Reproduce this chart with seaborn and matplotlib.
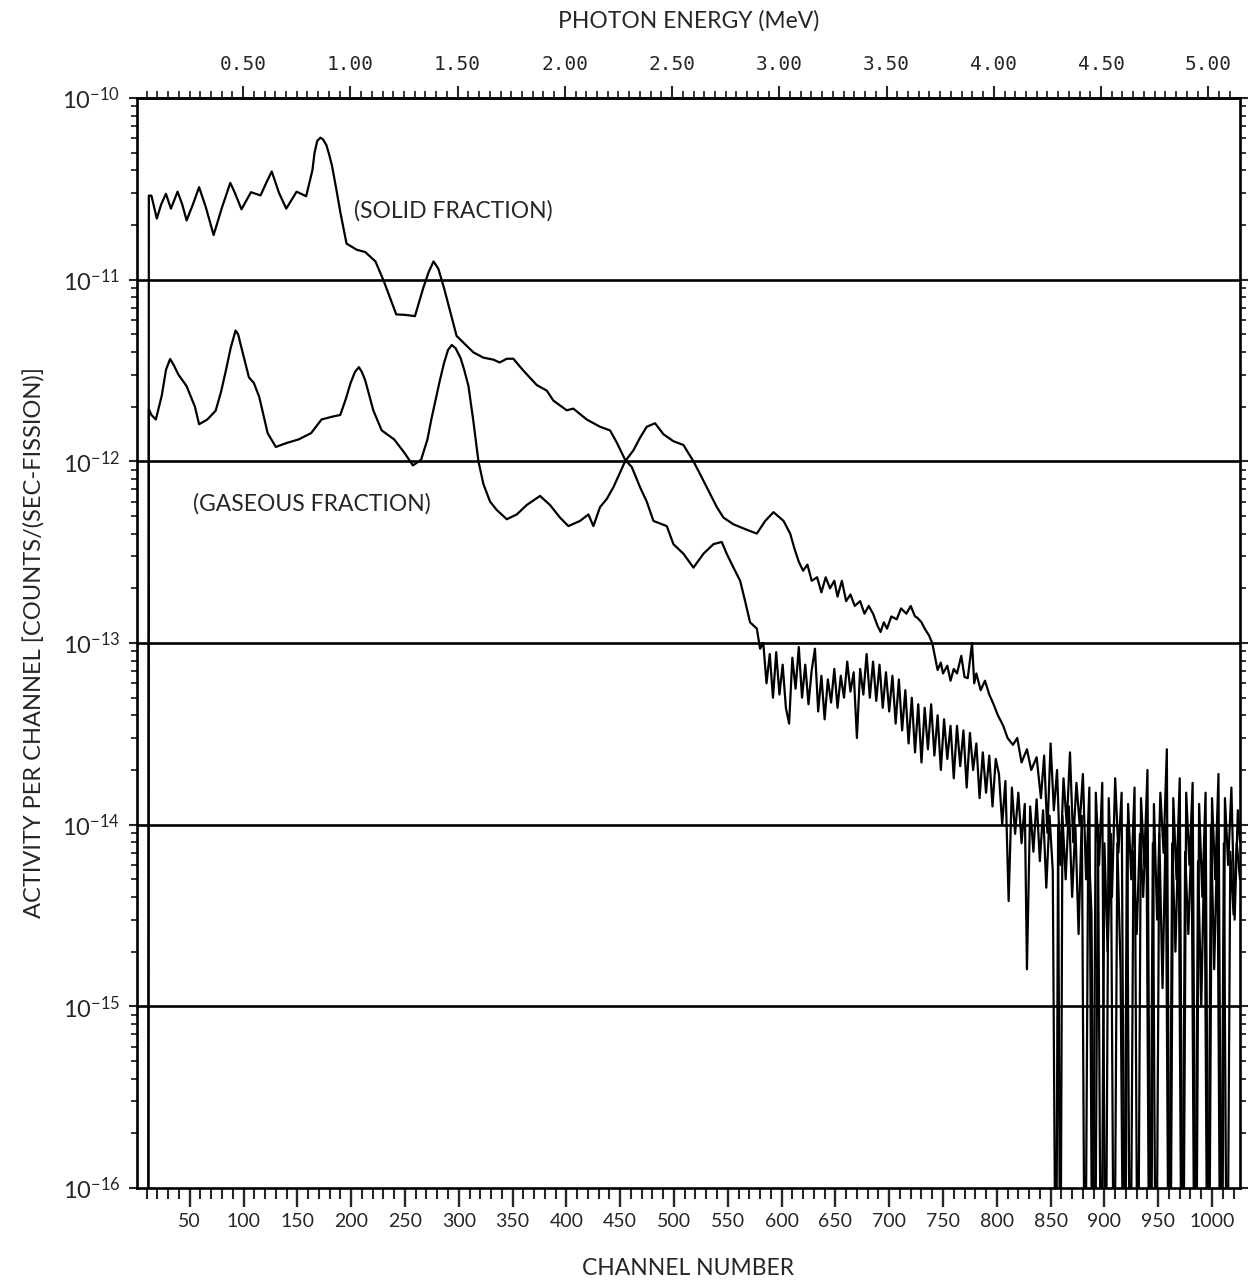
import numpy as np
import pandas as pd
import matplotlib
matplotlib.use("Agg")
import matplotlib.pyplot as plt
import seaborn as sns
from matplotlib.ticker import FixedLocator, NullFormatter, FixedFormatter, LogFormatterSciNotation

# ---------------- data ----------------
solid_channel = [11.5, 12, 14.4, 19.4, 23.5, 27.9, 32.5, 38.7, 43, 47.1, 53, 58.7, 65, 72.2, 80,
                 87.7, 92, 98.1, 106.9, 115.8, 121, 126.2, 133, 139.7, 149.3, 158.2, 164, 166,
                 168.5, 171.4, 174, 177, 179.5, 182.2, 186, 189.9, 195.7, 205.3, 213, 222.6,
                 230.4, 241.9, 250, 259.3, 267, 272, 276.6, 281, 286.3, 298, 313.6, 322.9, 332.2,
                 338, 344.6, 350.7, 360, 372.5, 381.8, 387.9, 400.3, 406.5, 418.9, 431.3, 440.6,
                 446.8, 454.6, 460.8, 468.5, 474.7, 480.9, 493.3, 499.5, 508.8, 518.1, 527.4,
                 536.7, 544.4, 549, 555.3, 561.5, 566.1, 570.7, 577, 580,
                 583, 586, 589, 592, 595, 598, 601, 604, 607, 610, 613, 616, 619, 622, 625, 628,
                 631, 634, 637, 640, 643, 646, 649, 652, 655, 658, 661, 664, 667, 670, 673, 676,
                 679, 682, 685, 688, 691, 694, 697, 700, 703, 706, 709, 712, 715, 718, 721, 724,
                 727, 730, 733, 736, 739, 742, 745, 748, 751, 754, 757, 760, 763, 766, 769, 772,
                 775, 778, 781, 784, 787, 790, 793, 796, 799,
                 802, 805, 808, 811, 814, 817, 820, 823, 826, 828, 831, 834, 837, 840, 843, 846,
                 849, 852, 855, 857, 859, 861, 864, 867, 870, 873, 876, 879, 882, 885, 888, 891,
                 894, 897, 900, 903, 906, 909, 912, 915, 918, 921, 924, 927, 930, 933, 936, 939,
                 942, 945, 948, 951, 954, 957, 960, 963, 966, 969, 972, 975, 978, 981, 984, 987,
                 990, 993, 996, 999, 1002, 1005, 1008, 1011, 1014, 1017, 1020, 1023, 1026]
solid_activity = [1e-17, 2.9e-11, 2.9e-11, 2.17e-11, 2.6e-11, 2.97e-11, 2.46e-11, 3.05e-11, 2.6e-11,
                  2.12e-11, 2.6e-11, 3.23e-11, 2.5e-11, 1.76e-11, 2.5e-11, 3.41e-11, 3.0e-11,
                  2.44e-11, 3.03e-11, 2.91e-11, 3.4e-11, 3.94e-11, 3.0e-11, 2.46e-11, 3.05e-11,
                  2.88e-11, 4.0e-11, 5.0e-11, 5.8e-11, 6.05e-11, 5.9e-11, 5.5e-11, 4.9e-11,
                  4.24e-11, 3.2e-11, 2.36e-11, 1.58e-11, 1.46e-11, 1.42e-11, 1.26e-11, 9.8e-12,
                  6.44e-12, 6.4e-12, 6.3e-12, 9.0e-12, 1.1e-11, 1.26e-11, 1.15e-11, 9.0e-12,
                  4.9e-12, 3.98e-12, 3.72e-12, 3.63e-12, 3.5e-12, 3.67e-12, 3.67e-12, 3.16e-12,
                  2.63e-12, 2.45e-12, 2.16e-12, 1.91e-12, 1.95e-12, 1.70e-12, 1.55e-12, 1.48e-12,
                  1.27e-12, 1.02e-12, 9.3e-13, 7.2e-13, 6.0e-13, 4.7e-13, 4.4e-13, 3.5e-13,
                  3.1e-13, 2.6e-13, 3.1e-13, 3.5e-13, 3.6e-13, 3.1e-13, 2.6e-13, 2.2e-13, 1.7e-13,
                  1.3e-13, 1.2e-13, 9.3e-14,
                  1.0e-13, 6.0e-14, 8.7e-14, 5.0e-14, 8.9e-14, 5.2e-14, 7.6e-14, 4.4e-14, 3.6e-14,
                  8.3e-14, 5.6e-14, 9.5e-14, 5.0e-14, 7.6e-14, 4.6e-14, 7.1e-14, 9.3e-14, 4.2e-14,
                  6.6e-14, 3.8e-14, 6.3e-14, 4.7e-14, 7.2e-14, 4.4e-14, 6.6e-14, 5.0e-14, 7.9e-14,
                  5.4e-14, 6.9e-14, 3.0e-14, 7.2e-14, 5.2e-14, 8.7e-14, 5.0e-14, 7.9e-14, 4.8e-14,
                  7.6e-14, 4.4e-14, 6.9e-14, 4.2e-14, 6.6e-14, 3.6e-14, 6.3e-14, 3.3e-14, 5.5e-14,
                  2.8e-14, 5.0e-14, 2.5e-14, 4.6e-14, 2.2e-14, 4.4e-14, 2.6e-14, 4.6e-14, 2.4e-14,
                  4.0e-14, 2.0e-14, 3.8e-14, 2.3e-14, 3.5e-14, 1.8e-14, 3.5e-14, 2.1e-14, 3.3e-14,
                  1.6e-14, 3.2e-14, 2.0e-14, 2.8e-14, 1.4e-14, 2.5e-14, 1.5e-14, 2.4e-14, 1.26e-14,
                  2.3e-14,
                  1.9e-14, 1.0e-14, 1.74e-14, 3.8e-15, 1.6e-14, 8.9e-15, 1.5e-14, 7.9e-15, 1.3e-14,
                  1.6e-15, 1.26e-14, 7.1e-15, 1.38e-14, 6.3e-15, 1.2e-14, 4.5e-15, 1.12e-14, 5.6e-15,
                  1e-17, 1.0e-14, 1e-17, 1.12e-14, 5.0e-15, 1.26e-14, 4.0e-15, 1.0e-14, 2.5e-15,
                  1.12e-14, 1e-17, 8.9e-15, 3.2e-15, 1e-17, 1.0e-14, 1e-17, 7.9e-15, 2.0e-15,
                  8.9e-15, 1e-17, 7.9e-15, 1.6e-15, 1e-17, 1.0e-14, 1e-17, 7.1e-15, 2.5e-15, 8.9e-15,
                  4.0e-15, 1.12e-14, 1e-17, 7.9e-15, 1e-17, 8.9e-15, 1.26e-15, 1.0e-14, 1e-17,
                  7.9e-15, 2.0e-15, 1.0e-14, 1e-17, 7.1e-15, 2.5e-15, 8.9e-15, 1e-17, 6.3e-15,
                  1.0e-15, 7.9e-15, 1e-17, 1.0e-14, 1.6e-15, 8.9e-15, 1e-17, 7.9e-15, 1e-17, 7.1e-15,
                  3.2e-15, 7.9e-15, 5.0e-15]

gas_channel = [11.5, 12, 14.4, 18.5, 24, 28, 31.8, 35, 39.5, 47, 54.8, 58.7, 66.4, 74.1, 79,
               83.8, 88, 92.6, 95, 97.3, 105, 109.6, 114.6, 122.4, 130, 139.7, 151.2, 162.8,
               172.5, 182.2, 189.9, 195, 199.5, 203.5, 207.2, 210, 213, 220.7, 228.4, 240, 249.7,
               257.4, 265, 270.9, 274.5, 278.6, 282.5, 286.3, 290, 293.5, 297, 301.7, 305, 309,
               313.6, 318.3, 322.9, 329.1, 335.3, 344.6, 353.9, 363.2, 375.5, 384.8, 394.1, 401.9,
               412.7, 420.5, 425.1, 431.3, 437.5, 443.7, 454.6, 462.3, 468.5, 474.7, 482.4, 490.2,
               499.5, 508.8, 518.1, 524.3, 530.5, 539.8, 546, 555.3, 567.7, 577, 584.8, 592.5,
               601.8, 608,
               612, 616, 620, 624, 628, 633, 637, 641, 645, 649, 652, 656, 660, 664, 668, 673,
               677, 681, 685, 689, 692, 695, 698, 702, 707, 711, 716, 720, 724, 726, 730, 733,
               737, 740, 745, 748, 750, 754, 757, 760, 763, 767, 770, 773, 777, 779, 781, 785,
               789, 793, 797, 801, 806, 810, 815, 819, 823, 828, 832, 837,
               841, 844, 847, 850, 853, 856, 859, 862, 865, 868, 871, 874, 877, 880, 883, 886,
               889, 892, 895, 898, 901, 904, 907, 910, 913, 916, 919, 922, 925, 928, 931, 934,
               937, 940, 943, 946, 949, 952, 955, 958, 961, 964, 967, 970, 973, 976, 979, 982,
               985, 988, 991, 994, 997, 1000, 1003, 1006, 1009, 1012, 1015, 1018, 1021, 1024, 1026]
gas_activity = [1e-17, 1.94e-12, 1.80e-12, 1.70e-12, 2.3e-12, 3.2e-12, 3.66e-12, 3.4e-12, 3.0e-12,
                2.6e-12, 2.0e-12, 1.6e-12, 1.7e-12, 1.9e-12, 2.4e-12, 3.2e-12, 4.2e-12, 5.25e-12,
                5.0e-12, 4.4e-12, 2.9e-12, 2.7e-12, 2.26e-12, 1.43e-12, 1.20e-12, 1.26e-12,
                1.32e-12, 1.43e-12, 1.70e-12, 1.76e-12, 1.80e-12, 2.2e-12, 2.7e-12, 3.1e-12,
                3.3e-12, 3.1e-12, 2.8e-12, 1.9e-12, 1.48e-12, 1.32e-12, 1.11e-12, 9.5e-13,
                1.02e-12, 1.32e-12, 1.7e-12, 2.19e-12, 2.8e-12, 3.47e-12, 4.1e-12, 4.37e-12,
                4.2e-12, 3.7e-12, 3.2e-12, 2.6e-12, 1.66e-12, 1.0e-12, 7.5e-13, 6.0e-13, 5.4e-13,
                4.8e-13, 5.1e-13, 5.75e-13, 6.45e-13, 5.75e-13, 4.9e-13, 4.4e-13, 4.7e-13,
                5.1e-13, 4.4e-13, 5.6e-13, 6.2e-13, 7.2e-13, 1.0e-12, 1.15e-12, 1.35e-12,
                1.55e-12, 1.62e-12, 1.41e-12, 1.29e-12, 1.23e-12, 1.0e-12, 8.5e-13, 7.2e-13,
                5.6e-13, 4.9e-13, 4.5e-13, 4.2e-13, 4.0e-13, 4.7e-13, 5.25e-13, 4.7e-13, 4.0e-13,
                3.3e-13, 2.8e-13, 2.5e-13, 2.7e-13, 2.2e-13, 2.3e-13, 1.9e-13, 2.3e-13, 2.0e-13,
                2.2e-13, 1.8e-13, 2.2e-13, 1.7e-13, 1.85e-13, 1.6e-13, 1.7e-13, 1.45e-13, 1.6e-13,
                1.45e-13, 1.25e-13, 1.15e-13, 1.3e-13, 1.2e-13, 1.4e-13, 1.35e-13, 1.55e-13,
                1.45e-13, 1.6e-13, 1.4e-13, 1.38e-13, 1.3e-13, 1.2e-13, 1.1e-13, 1.0e-13, 7.1e-14,
                7.8e-14, 6.8e-14, 7.5e-14, 6.2e-14, 7.2e-14, 6.8e-14, 8.5e-14, 6.5e-14, 6.4e-14,
                1.0e-13, 6.0e-14, 6.8e-14, 5.5e-14, 6.2e-14, 5.2e-14, 4.6e-14, 4.0e-14, 3.5e-14,
                3.0e-14, 2.75e-14, 3.0e-14, 2.2e-14, 2.6e-14, 2.0e-14, 2.35e-14,
                1.4e-14, 2.4e-14, 9.0e-15, 2.8e-14, 1.2e-14, 2.0e-14, 6.0e-15, 1.8e-14, 1.0e-14,
                2.5e-14, 8.0e-15, 1.7e-14, 1.0e-14, 1.9e-14, 5.0e-15, 1.6e-14, 1e-17, 1.5e-14,
                6.0e-15, 1.7e-14, 1e-17, 1.4e-14, 4.0e-15, 1.8e-14, 7.0e-15, 1.5e-14, 1e-17,
                1.3e-14, 5.0e-15, 1.6e-14, 1e-17, 1.4e-14, 6.0e-15, 2.0e-14, 1e-17, 1.3e-14,
                3.0e-15, 1.5e-14, 7.0e-15, 2.6e-14, 1e-17, 1.4e-14, 5.0e-15, 1.8e-14, 1e-17,
                1.5e-14, 6.0e-15, 1.7e-14, 1e-17, 1.3e-14, 4.0e-15, 1.5e-14, 1e-17, 1.4e-14,
                5.0e-15, 1.9e-14, 1e-17, 1.4e-14, 6.0e-15, 1.6e-14, 3.0e-15, 1.2e-14, 8e-15]

channel_ticks = [50, 100, 150, 200, 250, 300, 350, 400, 450, 500, 550, 600, 650, 700, 750, 800,
                 850, 900, 950, 1000]
energy_ticks = [0.5, 1.0, 1.5, 2.0, 2.5, 3.0, 3.5, 4.0, 4.5, 5.0]
energy_labels = ["0.50", "1.00", "1.50", "2.00", "2.50", "3.00", "3.50", "4.00", "4.50", "5.00"]
decade_ticks = [1e-16, 1e-15, 1e-14, 1e-13, 1e-12, 1e-11, 1e-10]
decade_lines = [1e-11, 1e-12, 1e-13, 1e-14, 1e-15]

# ---------------- style ----------------
sns.set_style("ticks")
plt.rcParams["font.family"] = ["Lato", "DejaVu Sans"]
plt.rcParams["mathtext.default"] = "regular"

fig = plt.figure(figsize=(12.57, 12.86), dpi=100)
ax = fig.add_axes([137 / 1257, 1 - 1188 / 1286, (1240 - 137) / 1257, (1188 - 98) / 1286])

df_solid = pd.DataFrame({"channel": solid_channel, "activity": solid_activity})
df_gas = pd.DataFrame({"channel": gas_channel, "activity": gas_activity})

sns.lineplot(data=df_solid, x="channel", y="activity", ax=ax, color="black", lw=1.6,
             estimator=None, sort=False)
sns.lineplot(data=df_gas, x="channel", y="activity", ax=ax, color="black", lw=1.6,
             estimator=None, sort=False)

ax.set_yscale("log")
ax.set_ylim(1e-16, 1e-10)
ax.set_xlim(1, 1026)

for v in decade_lines:
    ax.axhline(v, color="black", lw=1.9, zorder=1)

for s in ax.spines.values():
    s.set_linewidth(1.9)
    s.set_color("black")

# bottom: channel axis
ax.xaxis.set_major_locator(FixedLocator(channel_ticks))
ax.xaxis.set_minor_locator(FixedLocator(list(range(10, 1030, 10))))
ax.tick_params(axis="x", which="major", direction="out", length=14, width=1.7, pad=4,
               labelsize=14, top=False)
ax.tick_params(axis="x", which="minor", direction="out", length=8, width=1.5, top=False)
ax.set_xlabel("CHANNEL NUMBER", fontsize=16.5, labelpad=20)

# left / right: log axis
minor_y = [m * d for d in decade_ticks[:-1] for m in range(2, 10)]
ax.yaxis.set_major_locator(FixedLocator(decade_ticks))
ax.yaxis.set_major_formatter(LogFormatterSciNotation())
ax.yaxis.set_minor_locator(FixedLocator(minor_y))
ax.yaxis.set_minor_formatter(NullFormatter())
ax.tick_params(axis="y", which="major", direction="out", length=6, width=1.5, pad=6,
               labelsize=17, left=True, right=True)
ax.tick_params(axis="y", which="minor", direction="out", length=4, width=1.3,
               left=True, right=True)
ax.set_ylabel("ACTIVITY PER CHANNEL [COUNTS/(SEC-FISSION)]", fontsize=17, labelpad=12)

# top: photon energy axis
sec = ax.secondary_xaxis("top", functions=(lambda c: c / 199.3, lambda e: e * 199.3))
sec.xaxis.set_major_locator(FixedLocator(energy_ticks))
sec.xaxis.set_major_formatter(FixedFormatter(energy_labels))
sec.xaxis.set_minor_locator(FixedLocator([round(0.05 * i, 2) for i in range(1, 103)]))
sec.tick_params(axis="x", which="major", direction="out", length=9, width=1.5, pad=8)
sec.tick_params(axis="x", which="minor", direction="out", length=5, width=1.3)
for lab in sec.get_xticklabels():
    lab.set_fontfamily("DejaVu Sans Mono")
    lab.set_fontsize(14)
sec.spines["top"].set_linewidth(1.9)
sec.set_xlabel("PHOTON ENERGY (MeV)", fontsize=16.5, labelpad=20)

# annotations
ax.text(203, 2.4e-11, "(SOLID FRACTION)", fontsize=16.5, va="center", ha="left")
ax.text(53, 5.8e-13, "(GASEOUS FRACTION)", fontsize=16.5, va="center", ha="left")

fig.savefig("out.png", dpi=100)
